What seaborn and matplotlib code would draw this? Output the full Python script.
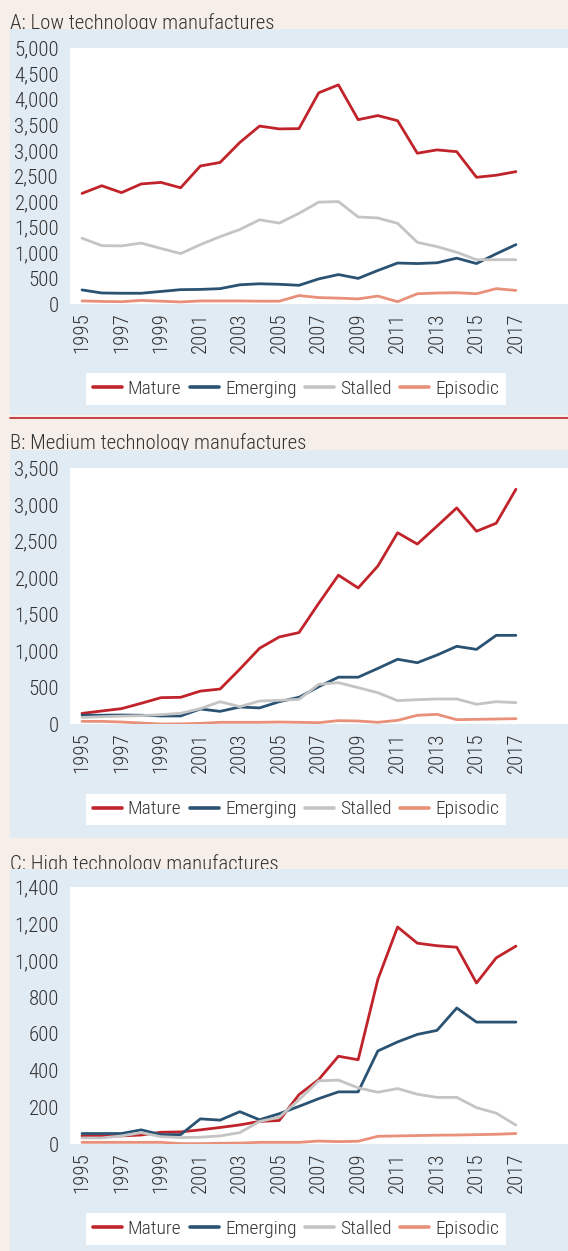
import matplotlib
matplotlib.use("Agg")
import matplotlib.pyplot as plt
import pandas as pd
import seaborn as sns
from matplotlib.patches import Rectangle
from matplotlib.lines import Line2D
from matplotlib.ticker import FuncFormatter

# data
years = list(range(1995, 2018))
groups = ["Mature", "Emerging", "Stalled", "Episodic"]
colors = ["#c1232b", "#2a5273", "#c4c4c4", "#e8907a"]

low_mature = [2160, 2310, 2175, 2345, 2375, 2270, 2695, 2765, 3155, 3475, 3420, 3425,
              4125, 4280, 3600, 3680, 3580, 2945, 3010, 2975, 2475, 2515, 2585]
low_emerging = [275, 215, 210, 210, 245, 280, 285, 300, 375, 395, 385, 365,
                490, 575, 500, 655, 800, 790, 805, 895, 790, 980, 1160]
low_stalled = [1285, 1140, 1135, 1190, 1085, 985, 1160, 1315, 1455, 1645, 1580, 1770,
               1990, 2000, 1700, 1680, 1575, 1205, 1120, 1010, 865, 865, 865]
low_episodic = [60, 50, 45, 70, 55, 40, 60, 60, 60, 55, 55, 165,
                125, 115, 100, 155, 45, 200, 215, 220, 200, 300, 265]

med_mature = [145, 178, 210, 283, 360, 365, 450, 478, 750, 1035, 1190, 1250,
              1650, 2035, 1860, 2160, 2615, 2460, 2705, 2955, 2635, 2745, 3210]
med_emerging = [120, 120, 123, 120, 110, 110, 205, 173, 232, 220, 305, 365,
                510, 640, 640, 760, 885, 838, 943, 1062, 1020, 1212, 1212]
med_stalled = [90, 100, 108, 114, 128, 146, 210, 305, 237, 314, 324, 337,
               542, 565, 497, 428, 319, 333, 342, 342, 270, 305, 292]
med_episodic = [36, 36, 27, 14, 0, 2, 9, 23, 23, 23, 27, 23,
                18, 46, 41, 23, 50, 119, 132, 59, 64, 68, 73]

high_mature = [44, 44, 44, 49, 64, 66, 77, 90, 104, 123, 128, 269,
               351, 478, 459, 897, 1182, 1094, 1080, 1072, 877, 1014, 1078]
high_emerging = [57, 57, 57, 77, 51, 51, 137, 130, 176, 132, 165, 205,
                 247, 284, 284, 507, 556, 597, 619, 741, 664, 664, 664]
high_stalled = [33, 33, 44, 62, 40, 35, 37, 44, 62, 123, 146, 241,
                344, 348, 306, 282, 302, 271, 254, 254, 198, 168, 103]
high_episodic = [9, 9, 9, 9, 9, 2, 2, 4, 5, 9, 9, 9,
                 16, 13, 15, 42, 44, 46, 48, 49, 51, 53, 57]

panels = [
    ("A: Low technology manufactures", [low_mature, low_emerging, low_stalled, low_episodic], 5000, 500),
    ("B: Medium technology manufactures", [med_mature, med_emerging, med_stalled, med_episodic], 3500, 500),
    ("C: High technology manufactures", [high_mature, high_emerging, high_stalled, high_episodic], 1400, 200),
]

W, H = 568, 1251
BEIGE = "#f6eee8"
BLUE = "#e1ebf4"
TXT = "#333333"

sns.set_style("white")
plt.rcParams["font.family"] = ["Roboto Condensed", "DejaVu Sans"]
plt.rcParams["font.weight"] = "light"


def fbox(x0, y0, x1, y1):
    return [x0 / W, 1 - y1 / H, (x1 - x0) / W, (y1 - y0) / H]


fig = plt.figure(figsize=(W / 100, H / 100), dpi=100, facecolor=BEIGE)

# pixel layout of each panel: blue box, plot area, legend box, title baseline
layout = [
    dict(blue=(10, 29, 568, 415), plot=(70, 48, 568, 304), leg=(86, 373, 506, 405), title=29),
    dict(blue=(10, 450, 568, 838), plot=(70, 468, 568, 724), leg=(86, 793, 506, 826), title=449),
    dict(blue=(10, 869, 568, 1251), plot=(70, 887, 568, 1144), leg=(86, 1213, 506, 1245), title=870),
]

for (title, series, ymax, ystep), lay in zip(panels, layout):
    bx = fbox(*lay["blue"])
    fig.patches.append(Rectangle((bx[0], bx[1]), bx[2], bx[3], transform=fig.transFigure,
                                 facecolor=BLUE, edgecolor="none", zorder=0.5))
    fig.text(10 / W, 1 - lay["title"] / H, title, fontsize=15, color=TXT,
             ha="left", va="baseline", zorder=0.2)

    rows = []
    for g, vals in zip(groups, series):
        for y, v in zip(years, vals):
            rows.append({"year": y, "group": g, "value": v})
    df = pd.DataFrame(rows)

    ax = fig.add_axes(fbox(*lay["plot"]), zorder=1)
    ax.set_facecolor("white")
    sns.lineplot(data=df, x="year", y="value", hue="group", hue_order=groups,
                 palette=colors, linewidth=2.0, ax=ax, legend=False)
    ax.set_xlim(1994.39, 2019.64)
    ax.set_ylim(0, ymax)
    ax.set_xticks(years[::2])
    ax.set_xticklabels([str(y) for y in years[::2]], rotation=90)
    ax.set_yticks(range(0, ymax + 1, ystep))
    ax.yaxis.set_major_formatter(FuncFormatter(lambda v, p: f"{int(v):,}"))
    ax.tick_params(axis="both", length=0, labelsize=15, labelcolor=TXT)
    ax.tick_params(axis="y", pad=8)
    ax.tick_params(axis="x", pad=6)
    ax.set_xlabel("")
    ax.set_ylabel("")
    for s in ax.spines.values():
        s.set_visible(False)
    ax.grid(False)

    lb = fbox(*lay["leg"])
    handles = [Line2D([0], [0], color=c, lw=2.6) for c in colors]
    leg = fig.legend(handles, groups, loc="center", ncol=4,
                     bbox_to_anchor=(lb[0], lb[1], lb[2], lb[3]), bbox_transform=fig.transFigure,
                     mode="expand", frameon=True, fancybox=False, fontsize=14,
                     handlelength=1.5, handletextpad=0.3, columnspacing=1.4,
                     borderpad=0.35, borderaxespad=0)
    leg.get_frame().set_facecolor("white")
    leg.get_frame().set_edgecolor("none")
    leg.get_frame().set_alpha(1)
    leg.set_zorder(2)
    for t in leg.get_texts():
        t.set_color(TXT)

# red separator under panel A
fig.add_artist(Line2D([10 / W, 1], [1 - 418 / H, 1 - 418 / H], transform=fig.transFigure,
                      color="#c1232b", lw=1.2, zorder=0.6))

fig.savefig("out.png", dpi=100, facecolor=BEIGE)
